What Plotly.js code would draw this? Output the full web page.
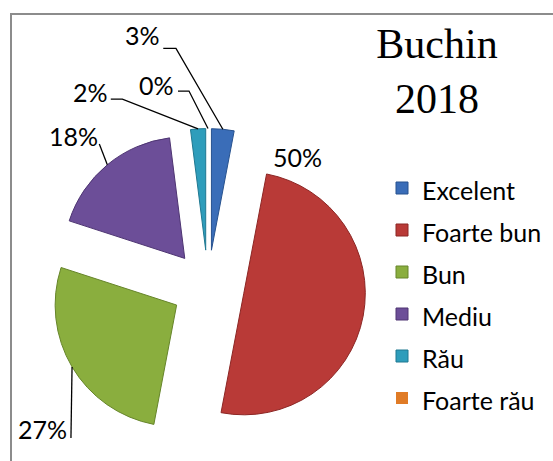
<!DOCTYPE html>
<html>
<head>
<meta charset="utf-8">
<script src="https://cdn.plot.ly/plotly-3.0.1.min.js"></script>
<style>
  html, body { margin: 0; padding: 0; background: #ffffff; }
  #chart { width: 553px; height: 461px; }
</style>
</head>
<body>
<div id="chart"></div>
<script>
// ---- data ----
const categories = ["Excelent", "Foarte bun", "Bun", "Mediu", "Rău", "Foarte rău"];
const values = [3, 50, 27, 18, 2, 0];
const percentLabels = ["3%", "50%", "27%", "18%", "2%", "0%"];
const chartTitle = "Buchin<br>2018";

// ---- styles ----
const sliceColors = ["#3a6db8", "#b93a37", "#8aae3e", "#6c4e98", "#2e9dbb", "#e07b26"];
const edgeColors  = ["#27528f", "#8c2624", "#66852a", "#4e3572", "#1f7891", "#b05c17"];
const W = 553, H = 461;
const pullFrac = 0.30;
const pieCx = 208, pieCy = 286.5, pieR = 121.5;
const half = pieR * (1 + pullFrac);
const domX = [(pieCx - half) / W, (pieCx + half) / W];
const domY = [(H - (pieCy + half)) / H, (H - (pieCy - half)) / H];

// label placement (pixels): text centre relative to the slice point, and leader line points relative to text centre
const labelStyle = [
  {dx: -80.4, dy: -93.9, line: [[20.8, 13], [33.5, 13]]},   // Excelent
  {dx: 31.4,  dy: -16.5, line: null, atStart: true},         // Foarte bun
  {dx: -29.6, dy: 61.6,  line: [[28.5, 9.5]]},               // Bun
  {dx: -34.3, dy: -28.8, line: [[26.3, 8]]},                 // Mediu
  {dx: -108,  dy: -37,   line: [[20.7, 7.3], [32.3, 7.3]]},  // Rău
  {dx: -51,   dy: -43.5, line: [[21, 6], [32, 6]]}           // Foarte rău
];

// ---- geometry derived from data + domain (same rules Plotly uses) ----
const availW = W * (domX[1] - domX[0]);
const availH = H * (domY[1] - domY[0]);
const R = Math.min(availW, availH) / 2 / (1 + pullFrac);
const cx = W * (domX[0] + domX[1]) / 2;
const cy = H * (1 - domY[0]) - availH / 2;
const total = values.reduce((a, b) => a + b, 0);
const toPX = x => x / W, toPY = y => 1 - y / H;

const labelFont = {family: "Lato, 'Liberation Sans', sans-serif", size: 25, color: "#000"};
const annotations = [];
const shapes = [{
  type: "rect", xref: "paper", yref: "paper",
  x0: 11 / W, x1: 1.05, y0: -0.05, y1: 1 - 14 / H,
  line: {color: "#8c8c8c", width: 2}, fillcolor: "rgba(0,0,0,0)"
}];

let cum = 0;
values.forEach((v, i) => {
  const a0 = cum / total * 2 * Math.PI;
  cum += v;
  const a1 = cum / total * 2 * Math.PI;
  const mid = (a0 + a1) / 2;
  const sx = cx + pullFrac * R * Math.sin(mid);
  const sy = cy - pullFrac * R * Math.cos(mid);
  const st = labelStyle[i];
  const ang = st.atStart ? a0 : mid;
  const px = sx + R * Math.sin(ang);
  const py = sy - R * Math.cos(ang);
  const tx = px + st.dx, ty = py + st.dy;
  annotations.push({
    xref: "paper", yref: "paper", x: toPX(tx), y: toPY(ty),
    xanchor: "center", yanchor: "middle",
    text: percentLabels[i], showarrow: false, font: labelFont
  });
  if (st.line) {
    const pts = st.line.map(p => [tx + p[0], ty + p[1]]).concat([[px, py]]);
    const path = pts.map((p, k) => (k ? "L" : "M") + toPX(p[0]).toFixed(5) + "," + toPY(p[1]).toFixed(5)).join(" ");
    shapes.push({type: "path", xref: "paper", yref: "paper", path: path,
      line: {color: "#000", width: 1.3}, fillcolor: "rgba(0,0,0,0)", layer: "above"});
  }
});

const legendLabels = categories.map(c => '<span style="font-size:25px">' + c + '</span>');

const trace = {
  type: "pie",
  labels: legendLabels,
  values: values,
  sort: false,
  direction: "clockwise",
  rotation: 0,
  pull: values.map(() => pullFrac),
  textinfo: "none",
  hoverinfo: "none",
  marker: {colors: sliceColors, line: {color: edgeColors, width: values.map(v => v > 0 ? 1 : 0)}},
  domain: {x: domX, y: domY}
};

const layout = {
  width: W, height: H,
  margin: {l: 0, r: 0, t: 0, b: 0},
  paper_bgcolor: "#ffffff",
  showlegend: true,
  title: {
    text: chartTitle,
    font: {family: "'Liberation Serif', 'Times New Roman', serif", size: 42, color: "#000"},
    xref: "container", yref: "container",
    x: 437 / W, xanchor: "center",
    y: 1 - 58 / H, yanchor: "top"
  },
  legend: {
    x: 382 / W, xanchor: "left",
    y: 1 - 162 / H, yanchor: "top",
    font: {family: "Lato, 'Liberation Sans', sans-serif", size: 30, color: "#000"},
    bgcolor: "rgba(0,0,0,0)"
  },
  annotations: annotations,
  shapes: shapes
};

Plotly.newPlot("chart", [trace], layout, {displayModeBar: false, staticPlot: true});
</script>
</body>
</html>
